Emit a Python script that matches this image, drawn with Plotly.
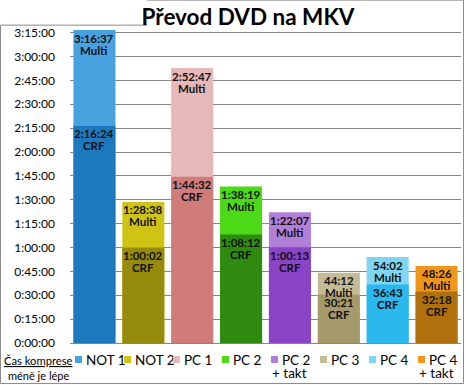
import plotly.graph_objects as go

categories = ["NOT 1", "NOT 2", "PC 1", "PC 2", "PC 2 + takt", "PC 3", "PC 4", "PC 4 + takt"]
legend_line1 = ["NOT 1", "NOT 2", "PC 1", "PC 2", "PC 2", "PC 3", "PC 4", "PC 4"]
legend_line2 = ["", "", "", "", "+ takt", "", "", "+ takt"]
crf_times = ["2:16:24", "1:00:02", "1:44:32", "1:08:12", "1:00:13", "30:21", "36:43", "32:18"]
multi_times = ["3:16:37", "1:28:38", "2:52:47", "1:38:19", "1:22:07", "44:12", "54:02", "48:26"]
multi_colors = ["#48A2E0", "#CFC414", "#E6B8B7", "#4CDA16", "#B07FD8", "#C4BA96", "#7FD6F2", "#F0961A"]
crf_colors = ["#1C79BE", "#968B0C", "#D07C7A", "#2F8A10", "#8B44C6", "#A59A6A", "#2BB8EC", "#B0700E"]
tick_seconds = list(range(0, 11701, 900))
tick_labels = ["0:00:00", "0:15:00", "0:30:00", "0:45:00", "1:00:00", "1:15:00", "1:30:00",
               "1:45:00", "2:00:00", "2:15:00", "2:30:00", "2:45:00", "3:00:00", "3:15:00"]


def to_sec(t):
    parts = [int(p) for p in t.split(":")]
    s = 0
    for p in parts:
        s = s * 60 + p
    return s


crf_sec = [to_sec(t) for t in crf_times]
multi_sec = [to_sec(t) for t in multi_times]

FONT = "Lato, Carlito, Calibri, sans-serif"
W, H = 465, 385
Y_TOP = 11800  # a bit above 3:15:00 so the tallest bar and its labels stay on the axis
L, R, B = 70, 4, 42
# keep the 3:15:00 gridline at y=33 px
T = 33 - (Y_TOP - 11700) * (H - B - 33) / 11700
PW, PH = W - L - R, H - T - B


def px(x):
    return (x - L) / PW


def py(y):
    return (H - B - y) / PH


fig = go.Figure()
fig.add_trace(go.Bar(
    x=categories, y=multi_sec, marker=dict(color=multi_colors, line=dict(width=0)),
    cliponaxis=False, hoverinfo="skip", showlegend=False,
))
fig.add_trace(go.Bar(
    x=categories, y=crf_sec, marker=dict(color=crf_colors, line=dict(width=0)),
    cliponaxis=False, hoverinfo="skip", showlegend=False,
))

annotations = []
lab_font = dict(family=FONT, size=11.5, color="#111111", weight="bold")
for cat, ms, mt, cs, ct in zip(categories, multi_sec, multi_times, crf_sec, crf_times):
    for val, tt, word in ((ms, mt, "Multi"), (cs, ct, "CRF")):
        annotations.append(dict(x=cat, y=val, xref="x", yref="y", yanchor="top", yshift=0.5,
                                text=tt, showarrow=False, font=lab_font))
        annotations.append(dict(x=cat, y=val, xref="x", yref="y", yanchor="top", yshift=-11.5,
                                text=word, showarrow=False, font=lab_font))

leg_font = dict(family=FONT, size=13.5, color="#000000")
for cat, l1, l2, col in zip(categories, legend_line1, legend_line2, multi_colors):
    annotations.append(dict(
        x=cat, xref="x", xanchor="left", xshift=-19, y=py(359), yref="paper", yanchor="middle",
        text=" ", width=7, height=7, bgcolor=col, borderpad=0, borderwidth=0, showarrow=False,
        font=dict(size=4),
    ))
    annotations.append(dict(
        x=cat, xref="x", xanchor="left", xshift=-10, y=py(360), yref="paper", yanchor="middle",
        text=l1, showarrow=False, font=leg_font,
    ))
    if l2:
        annotations.append(dict(
            x=cat, xref="x", xanchor="left", xshift=-20, y=py(372.5), yref="paper", yanchor="middle",
            text=l2, showarrow=False, font=leg_font,
        ))
annotations.append(dict(
    x=px(2), xref="paper", xanchor="left", y=py(360), yref="paper", yanchor="middle",
    text="<u>Čas komprese</u>", showarrow=False,
    font=dict(family=FONT, size=11.2, color="#000000"),
))
annotations.append(dict(
    x=px(38), xref="paper", xanchor="center", y=py(375), yref="paper", yanchor="middle",
    text="méně je lépe", showarrow=False,
    font=dict(family=FONT, size=11, color="#000000"),
))

border = "#8A8A8A"
shapes = [
    dict(type="line", xref="paper", yref="paper", x0=px(147), x1=px(463.5), y0=py(0.5), y1=py(0.5), line=dict(color=border, width=1)),
    dict(type="line", xref="paper", yref="paper", x0=px(0.5), x1=px(147), y0=py(25.5), y1=py(25.5), line=dict(color=border, width=1)),
    dict(type="line", xref="paper", yref="paper", x0=px(0.5), x1=px(0.5), y0=py(25.5), y1=py(383.5), line=dict(color=border, width=1)),
    dict(type="line", xref="paper", yref="paper", x0=px(463.5), x1=px(463.5), y0=py(0.5), y1=py(383.5), line=dict(color=border, width=1)),
    dict(type="line", xref="paper", yref="paper", x0=px(0.5), x1=px(463.5), y0=py(383.5), y1=py(383.5), line=dict(color=border, width=1)),
]

fig.update_layout(
    width=W, height=H, margin=dict(l=L, r=R, t=T, b=B),
    paper_bgcolor="white", plot_bgcolor="white",
    barmode="overlay", bargap=0.14,
    title=dict(text="<b>Převod DVD na MKV</b>", x=248 / W, xref="container", xanchor="center",
               y=1 - 17 / H, yref="container", yanchor="middle",
               font=dict(family=FONT, size=22.5, color="#000000")),
    annotations=annotations, shapes=shapes,
    font=dict(family=FONT),
)
fig.update_xaxes(showticklabels=False, showgrid=False, showline=True, linecolor="#868686",
                 linewidth=1, ticks="", fixedrange=True)
fig.update_yaxes(range=[0, Y_TOP], tickvals=tick_seconds, ticktext=tick_labels,
                 showgrid=True, gridcolor="#868686", gridwidth=1, zeroline=False,
                 showline=False, ticks="", ticklabelstandoff=14,
                 tickfont=dict(family=FONT, size=12, color="#000000"), fixedrange=True)

fig.write_html("out.html", post_script="document.body.style.margin='0';",
               config={"displayModeBar": False})
